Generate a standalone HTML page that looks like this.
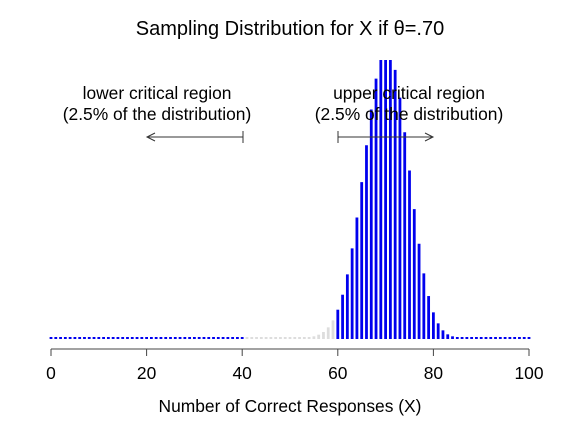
<!DOCTYPE html>
<html><head><meta charset="utf-8"><style>
body{margin:0;background:#fff}
svg{display:block;font-family:"Liberation Sans",sans-serif}
</style></head><body>
<svg id="chart" width="577" height="427" viewBox="0 0 577 427">
<defs><clipPath id="plotclip"><rect x="0" y="60" width="577" height="300"/></clipPath></defs>
<text x="290" y="35" font-size="20" text-anchor="middle">Sampling Distribution for X if θ=.70</text>
<g id="bars" clip-path="url(#plotclip)"></g>
<g stroke="#444" stroke-width="1">
<line x1="51" y1="349" x2="529" y2="349"/>
</g>
<g id="ticks"></g>
<text x="290" y="412" font-size="17.4" text-anchor="middle">Number of Correct Responses (X)</text>
<g font-size="17.4" text-anchor="middle">
<text x="157" y="99">lower critical region</text>
<text x="157" y="120">(2.5% of the distribution)</text>
</g>
<g font-size="17.4" text-anchor="middle">
<text x="409" y="99">upper critical region</text>
<text x="409" y="120">(2.5% of the distribution)</text>
</g>
<g stroke="#333" stroke-width="1" fill="none">
<line x1="147" y1="137" x2="243" y2="137"/><line x1="243" y1="131" x2="243" y2="143"/>
<polyline points="155,133 147,137 155,141"/>
</g>
<g stroke="#333" stroke-width="1" fill="none">
<line x1="338" y1="137" x2="433" y2="137"/><line x1="338" y1="131" x2="338" y2="143"/>
<polyline points="425,133 433,137 425,141"/>
</g>
</svg>
<script>
const xValues = Array.from({length:101},(_, i)=>i);
const probs = [0,0,0,0,0,0,0,0,0,0, 0,0,0,0,0,0,0,0,0,0, 0,0,0,0,0,0,0,0,0,0, 0,0,0,0,0,0,0,0,0,0,
 0,0,0,0,0,0,0,0,0,0.000005, 0.000013,0.00003,0.00006,0.00011,0.00025,0.0005,0.0010,0.0018,0.0032,0.0053,
 0.0085,0.0130,0.0191,0.0269,0.0362,0.0468,0.0579,0.0686,0.0779,0.0841,
 0.0868,0.0856,0.0805,0.0722,0.0618,0.0503,0.0387,0.0283,0.0194,0.0126,
 0.0077,0.0044,0.0023,0.0011,0.0005,0.0002,0,0,0,0, 0,0,0,0,0,0,0,0,0,0, 0];
const lowerCrit = 40, upperCrit = 60;
const tickValues = [0,20,40,60,80,100];
const xs = v => 51 + v*4.78;
const ys = p => 338 - p*3330;
const NS='http://www.w3.org/2000/svg';
const g=document.getElementById('bars');
xValues.forEach((x,i)=>{
  const l=document.createElementNS(NS,'line');
  l.setAttribute('x1',xs(x));l.setAttribute('x2',xs(x));
  l.setAttribute('y1',339);l.setAttribute('y2',Math.min(ys(probs[i]),337));
  const inCrit = x<=lowerCrit || x>=upperCrit;
  l.setAttribute('stroke',inCrit?'#0000ee':'#dddddd');
  l.setAttribute('stroke-width',2.8);
  
  
  g.appendChild(l);
});
const t=document.getElementById('ticks');
tickValues.forEach(v=>{
  const l=document.createElementNS(NS,'line');
  l.setAttribute('x1',xs(v));l.setAttribute('x2',xs(v));l.setAttribute('y1',349);l.setAttribute('y2',356);
  l.setAttribute('stroke','#444');
  
  
  t.appendChild(l);
  const tx=document.createElementNS(NS,'text');
  tx.setAttribute('x',xs(v));tx.setAttribute('y',379);tx.setAttribute('font-size','17.4');tx.setAttribute('text-anchor','middle');
  tx.textContent=v;
  
  
  t.appendChild(tx);
});
</script>
</body></html>
